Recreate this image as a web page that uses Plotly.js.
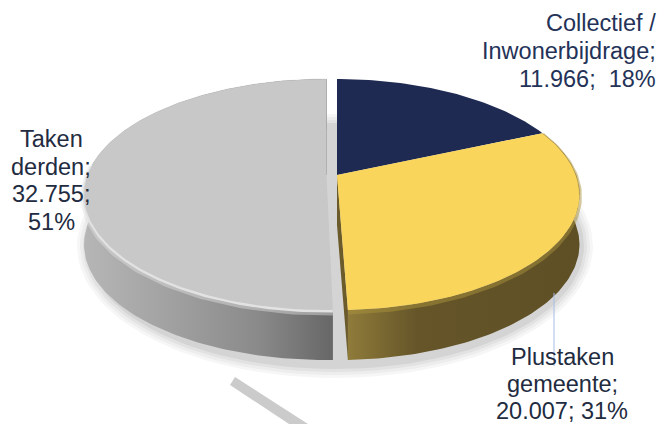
<!DOCTYPE html>
<html><head><meta charset="utf-8">
<script src="https://cdn.plot.ly/plotly-3.0.1.min.js"></script>
<style>html,body{margin:0;padding:0;background:#fff}#c{width:663px;height:424px}</style></head>
<body><div id="c"></div>
<script>
const categories = ["Collectief / Inwonerbijdrage", "Plustaken gemeente", "Taken derden"];
const values = [11966, 20007, 32755];
const topColors = ["#1e2a52", "#fad55c", "#c8c8c8"];
const labelLines = [
  ["Collectief /", "Inwonerbijdrage;", "11.966;\u00a0 18%"],
  ["Plustaken", "gemeente;", "20.007; 31%"],
  ["Taken", "derden;", "32.755;", "51%"]
];

// pie projection (perspective-tilted disc)
const A = 239, B = 112.2, K = 0.169, DEPTH = 50, FLOOR = 1;
const tips = [[337,175],[337,175],[326.5,175]];
function pt(deg, tip, down){
  const t = deg*Math.PI/180, u = Math.sin(t), v = Math.cos(t), w = 1+K*v;
  let x = A*u/w, y = -B*v/w;
  if(down){ x*=FLOOR; y=y*FLOOR+DEPTH; }
  return [tip[0]+x, tip[1]+y];
}
const total = values.reduce((a,b)=>a+b,0);
let acc = 0;
const spans = values.map((v,i)=>{ const s=acc/total*360; acc+=v; return [s,acc/total*360]; });
spans[2][0] += 0.9; // slice separation at the front
function arc(i,down,a0,a1){
  const [s,e]=[a0??spans[i][0],a1??spans[i][1]], p=[], n=Math.ceil(e-s);
  for(let k=0;k<=n;k++) p.push(pt(s+(e-s)*k/n,tips[i],down));
  return p;
}
const traces=[];
function poly(p,extra){
  traces.push(Object.assign({type:'scatter',mode:'lines',x:p.map(q=>q[0]),y:p.map(q=>q[1]),
    fill:'toself',line:{width:0},hoverinfo:'skip',showlegend:false},extra));
}
function stroke(p,color,width){
  traces.push({type:'scatter',mode:'lines',x:p.map(q=>q[0]),y:p.map(q=>q[1]),
    line:{color:color,width:width,shape:'linear'},hoverinfo:'skip',showlegend:false});
}
// soft shadow
for(const [g,op] of [[10,0.10],[7,0.12],[4,0.16],[1,0.25]]){
  const p=[]; for(let d=0;d<=360;d+=3){const t=d*Math.PI/180;p.push([335+(248+g)*Math.sin(t),246+(122+g)*Math.cos(t)]);}
  poly(p,{fillcolor:`rgba(170,170,170,${op})`});
}
// outer walls
const wallGrad=[
  [[0,'#b6b6b6'],[0.3,'#a4a4a4'],[0.7,'#8a8a8a'],[1,'#676767']],
  [[0,'#8f7b3a'],[0.12,'#7e6c33'],[0.3,'#655529'],[1,'#5e4f25']]
];
[[2,wallGrad[0]],[1,wallGrad[1]]].forEach(([i,cs])=>{
  const p=arc(i,false).concat(arc(i,true).reverse());
  p.push(p[0]);
  poly(p,{fillcolor:cs[0][1],fillgradient:{type:'horizontal',colorscale:cs}});
});
// cut wall of the yellow slice
{
  const e=spans[1][1], a=pt(e,tips[1],false), b=pt(e,tips[1],true);
  const t=tips[1], p=[t,a,b,[t[0],t[1]+DEPTH],t];
  poly(p,{fillcolor:'#6b5a2a'});
}
// rim shading (under tops)
stroke(arc(2,false,spans[2][0],275).map(q=>[q[0],q[1]+2]),'rgba(225,225,225,0.45)',7);
stroke(arc(2,false,spans[2][0],275).map(q=>[q[0],q[1]+1]),'#e2e2e2',3);
stroke(arc(1,false).map(q=>[q[0],q[1]+2]),'rgba(170,145,60,0.5)',5);
// top faces
values.forEach((v,i)=>{
  const p=[tips[i]].concat(arc(i,false)); p.push(tips[i]);
  poly(p,{fillcolor:topColors[i],name:categories[i]});
});
// top edges
stroke(arc(1,false,spans[1][0],100),'rgba(130,112,55,0.4)',1);
stroke(arc(2,false,275,360),'rgba(185,185,185,0.35)',1);
stroke([pt(360,tips[2],false),tips[2]],'rgba(165,165,165,0.7)',1);

// labels
const annos=[];
function label(lines,xs,anchor,y0,step,color){
  lines.forEach((t,k)=>annos.push({text:t,x:xs[k]??xs[0],y:y0+k*step,xref:'x',yref:'y',xanchor:anchor,yanchor:'middle',
    showarrow:false,align:anchor,font:{family:'"Liberation Sans",Arial,sans-serif',size:23.5,color:color},borderpad:0,borderwidth:0}));
}
label(labelLines[0],[656],'right',23,28,'#243258');
label(labelLines[1],[562],'center',357,27,'#222b40');
label(labelLines[2],[51],'center',139,27.7,'#222b40');

const layout={width:663,height:424,margin:{l:0,r:0,t:0,b:0,pad:0},paper_bgcolor:'#fff',plot_bgcolor:'#fff',
  xaxis:{range:[0,663],visible:false,fixedrange:true},
  yaxis:{range:[424,0],visible:false,fixedrange:true},
  showlegend:false,annotations:annos,
  shapes:[
    {type:'line',xref:'x',yref:'y',x0:554,x1:554,y0:293,y1:366,line:{color:'#a9bde6',width:1}},
    {type:'path',xref:'x',yref:'y',path:'M230,385 L235,377 L308,424 L289,424 Z',fillcolor:'#cbcbcb',line:{width:0}}
  ]};
Plotly.newPlot('c',traces,layout,{displayModeBar:false,staticPlot:true});
</script></body></html>
